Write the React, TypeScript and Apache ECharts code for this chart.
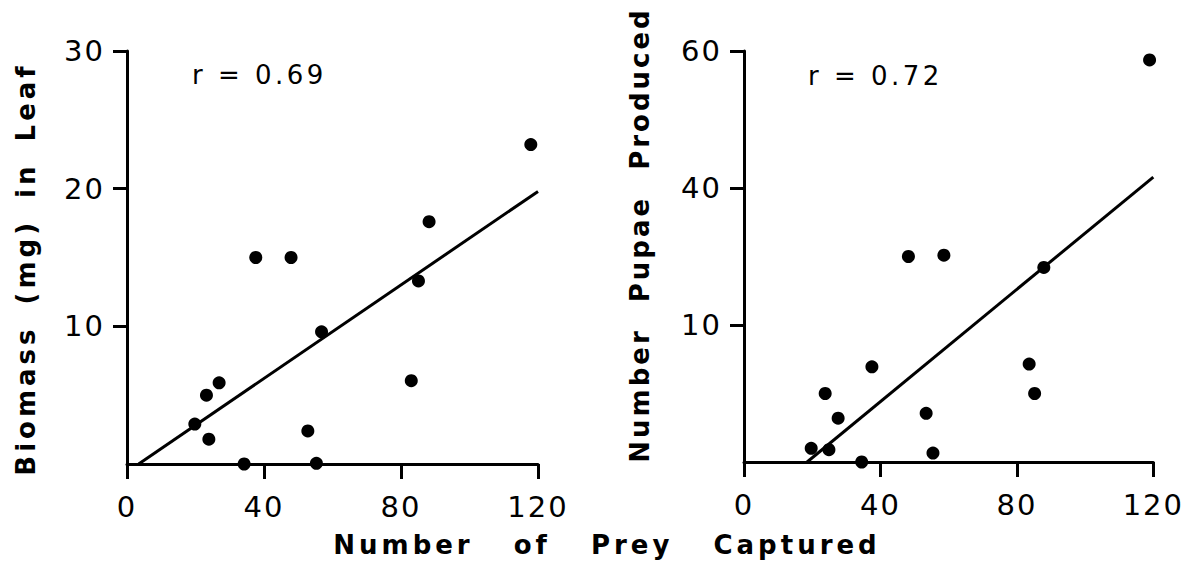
import React, { useEffect, useRef } from 'react';
import * as echarts from 'echarts';

// Left panel: leaf biomass against prey captured
const leafPrey = [19.8, 23.2, 26.9, 23.9, 34.2, 37.6, 47.9, 52.8, 55.3, 56.8, 83.0, 85.1, 88.2, 117.9];
const leafBiomass = [2.9, 5.0, 5.9, 1.8, 0, 15.0, 15.0, 2.4, 0.05, 9.6, 6.05, 13.3, 17.6, 23.2];
const leafFitPrey = [3.4, 120];
const leafFitBiomass = [0, 19.8];

// Right panel: pupae produced against prey captured
const pupaePrey = [19.7, 24.9, 23.8, 27.6, 34.5, 37.5, 48.2, 53.4, 55.4, 58.6, 83.6, 85.2, 87.9, 118.9];
const pupaeCount = [2.0, 1.8, 10.0, 6.4, 0, 13.9, 30.0, 7.1, 1.3, 30.2, 14.3, 10.0, 28.4, 58.7];
const pupaeFitPrey = [18.5, 120];
const pupaeFitCount = [0, 41.6];

// Axis ticks and their printed labels
const xTickValues = [0, 40, 80, 120];
const xTickLabels = ['0', '40', '80', '120'];
const leafYTickValues = [10, 20, 30];
const leafYTickLabels = ['10', '20', '30'];
const pupaeYTickValues = [20, 40, 60];
const pupaeYTickLabels = ['10', '40', '60'];

const leafR = 'r = 0.69';
const pupaeR = 'r = 0.72';
const xTitle = 'Number of Prey Captured';
const leafYTitle = 'Biomass (mg) in Leaf';
const pupaeYTitle = 'Number Pupae Produced';

const FONT = '"DejaVu Sans", sans-serif';
const INK = '#000';

const zip = (xs: number[], ys: number[]) => xs.map((x, i) => [x, ys[i]]);
const labelFor = (values: number[], labels: string[]) => (v: number) => {
  const i = values.indexOf(v);
  return i >= 0 ? labels[i] : '';
};

// Extra tracking for the texts (SVG letter/word spacing)
const SPACING: Record<string, { letter: number; word: number }> = {
  [xTitle]: { letter: 4, word: 27 },
  [leafYTitle]: { letter: 4, word: 8 },
  [pupaeYTitle]: { letter: 3, word: 14 },
  [leafR]: { letter: 3.5, word: 0 },
  [pupaeR]: { letter: 3.5, word: 0 },
};
const TICK_SPACING = 2;

function xAxis(gridIndex: number) {
  return {
    gridIndex,
    type: 'value',
    min: 0,
    max: 120,
    interval: 40,
    splitLine: { show: false },
    axisLine: { show: true, onZero: false, lineStyle: { color: INK, width: 3 } },
    axisTick: { show: true, length: 15, customValues: xTickValues, lineStyle: { color: INK, width: 3 } },
    axisLabel: {
      customValues: xTickValues,
      formatter: labelFor(xTickValues, xTickLabels),
      margin: 28,
      color: INK,
      fontFamily: FONT,
      fontSize: 29,
    },
  };
}

function yAxis(gridIndex: number, max: number, interval: number, values: number[], labels: string[]) {
  return {
    gridIndex,
    type: 'value',
    min: 0,
    max,
    interval,
    splitLine: { show: false },
    axisLine: { show: true, onZero: false, lineStyle: { color: INK, width: 3 } },
    axisTick: { show: true, length: 14, customValues: values, lineStyle: { color: INK, width: 3 } },
    axisLabel: {
      customValues: values,
      formatter: labelFor(values, labels),
      margin: 22,
      color: INK,
      fontFamily: FONT,
      fontSize: 29,
    },
  };
}

function scatter(index: number, xs: number[], ys: number[]) {
  return {
    type: 'scatter',
    xAxisIndex: index,
    yAxisIndex: index,
    data: zip(xs, ys),
    symbol: 'circle',
    symbolSize: 13,
    itemStyle: { color: INK, opacity: 1 },
    silent: true,
    z: 3,
  };
}

function fitLine(index: number, xs: number[], ys: number[]) {
  return {
    type: 'line',
    xAxisIndex: index,
    yAxisIndex: index,
    data: zip(xs, ys),
    showSymbol: false,
    symbol: 'none',
    lineStyle: { color: INK, width: 3 },
    silent: true,
    clip: false,
    z: 2,
  };
}

function textEl(text: string, x: number, y: number, size: number, bold: boolean, align: string, rotation = 0) {
  return {
    type: 'text',
    x,
    y,
    rotation,
    silent: true,
    style: {
      text,
      fill: INK,
      fontFamily: FONT,
      fontSize: size,
      fontWeight: bold ? 'bold' : 'normal',
      align,
      verticalAlign: 'middle',
      textAlign: align,
      textVerticalAlign: 'middle',
    },
  };
}

export default function App() {
  const ref = useRef<HTMLDivElement>(null);

  useEffect(() => {
    const el = ref.current;
    if (!el) return;
    const chart = echarts.init(el, null, { renderer: 'svg' });
    chart.setOption({
      animation: false,
      backgroundColor: '#fff',
      grid: [
        { left: 127, top: 51, width: 411, height: 413 },
        { left: 744, top: 51, width: 410, height: 411 },
      ],
      xAxis: [xAxis(0), xAxis(1)],
      yAxis: [
        yAxis(0, 30, 10, leafYTickValues, leafYTickLabels),
        yAxis(1, 60, 20, pupaeYTickValues, pupaeYTickLabels),
      ],
      series: [
        fitLine(0, leafFitPrey, leafFitBiomass),
        scatter(0, leafPrey, leafBiomass),
        fitLine(1, pupaeFitPrey, pupaeFitCount),
        scatter(1, pupaePrey, pupaeCount),
      ],
      graphic: [
        textEl(leafR, 192, 75, 26, false, 'left'),
        textEl(pupaeR, 808, 76, 26, false, 'left'),
        textEl(xTitle, 607, 545, 26, true, 'center'),
        textEl(leafYTitle, 26, 269, 26, true, 'center', Math.PI / 2),
        textEl(pupaeYTitle, 640, 235, 26, true, 'center', Math.PI / 2),
      ],
    });

    const applySpacing = () => {
      el.querySelectorAll('text').forEach((t) => {
        const s = (t.textContent || '').trim();
        const cfg = SPACING[s];
        if (cfg) {
          t.style.letterSpacing = cfg.letter + 'px';
          t.style.wordSpacing = cfg.word + 'px';
        } else if (/^\d+$/.test(s)) {
          t.style.letterSpacing = TICK_SPACING + 'px';
        }
      });
    };
    applySpacing();
    const raf = requestAnimationFrame(applySpacing);

    return () => {
      cancelAnimationFrame(raf);
      chart.dispose();
    };
  }, []);

  return (
    <div
      ref={ref}
      style={{ position: 'fixed', left: 0, top: 0, width: 1184, height: 562, background: '#fff' }}
    />
  );
}
